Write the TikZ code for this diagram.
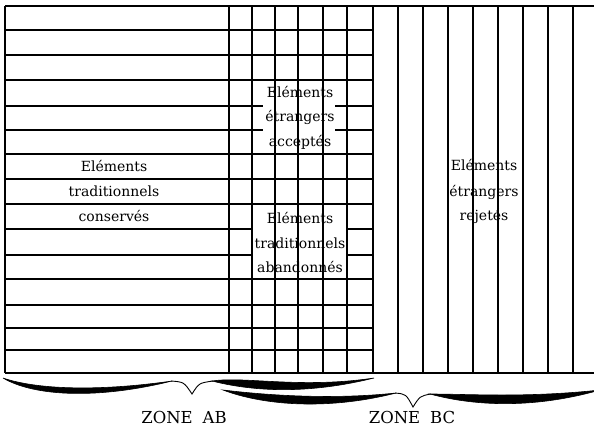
\documentclass[tikz,border=0pt]{standalone}
\usepackage{fontspec}
\setmainfont{DejaVu Serif}
\begin{document}
\begin{tikzpicture}[x=1pt,y=-1pt,line width=1.5pt,
  lbl/.style={font=\fontsize{14}{16}\selectfont,anchor=base,inner sep=0pt},
  zone/.style={font=\fontsize{16.5}{20}\selectfont,anchor=base,inner sep=0pt},
  bracearm/.style={fill=black,draw=black,line width=0.6pt},
  bracetip/.style={draw=black,line width=0.9pt}]
\useasboundingbox (0,0) rectangle (594,429);
% horizontal lines of the left part and the grid
\foreach \y in {30,55,80,106,130,154,179,204,229,255,279,305,328,350}
  \draw (5,\y) -- (373,\y);
% frame
\draw (5,6) -- (594,6);
\draw (5,373) -- (594,373);
\draw (5,6) -- (5,373);
% masks behind the grid labels
\fill[white] (263,100) rectangle (335,136);
\fill[white] (253,224) rectangle (347,260);
% vertical lines of the grid
\foreach \x in {229,252,275,298,323,347,373}
  \draw (\x,6) -- (\x,373);
% vertical lines of the right part
\foreach \x in {398,423,448,473,498,523,548,573}
  \draw (\x,6) -- (\x,373);
% labels
\node[lbl] (c1) at (114,171.5) {Eléments};
\node[lbl] (c2) at (114,196.5) {traditionnels};
\node[lbl] (c3) at (114,221.5) {conservés};
\node[lbl] (a1) at (300,97) {Eléments};
\node[lbl] (a2) at (300,121) {étrangers};
\node[lbl] (a3) at (300,146) {acceptés};
\node[lbl] (b1) at (300,223) {Eléments};
\node[lbl] (b2) at (300,248) {traditionnels};
\node[lbl] (b3) at (300,272) {abandonnés};
\node[lbl] (r1) at (484,170) {Eléments};
\node[lbl] (r2) at (484,196) {étrangers};
\node[lbl] (r3) at (484,220.5) {rejetés};
% brace of zone AB
\fill[bracearm] (3,378) .. controls (35,389) and (95,392) .. (172,381)
  .. controls (100,399) and (35,397) .. (3,378) -- cycle;
\draw[bracetip] (171,381) .. controls (184,382) .. (192,394)
  .. controls (199,383) .. (213,381);
\fill[bracearm] (212,381) .. controls (245,376) and (300,389) .. (374,378)
  .. controls (310,394) and (255,392) .. (212,381) -- cycle;
% brace of zone BC
\fill[bracearm] (223,390) .. controls (265,395) and (330,400) .. (396,393)
  .. controls (330,410) and (265,406) .. (223,390) -- cycle;
\draw[bracetip] (395,393) .. controls (406,394) .. (413,407)
  .. controls (420,396) .. (431,394);
\fill[bracearm] (430,394) .. controls (470,394) and (525,398) .. (600,390)
  .. controls (530,410) and (470,405) .. (430,394) -- cycle;
% zone labels
\node[zone] (zab) at (184,423) {ZONE\hspace{0.6em}AB};
\node[zone] (zbc) at (412,423) {ZONE\hspace{0.6em}BC};
\end{tikzpicture}
\end{document}
